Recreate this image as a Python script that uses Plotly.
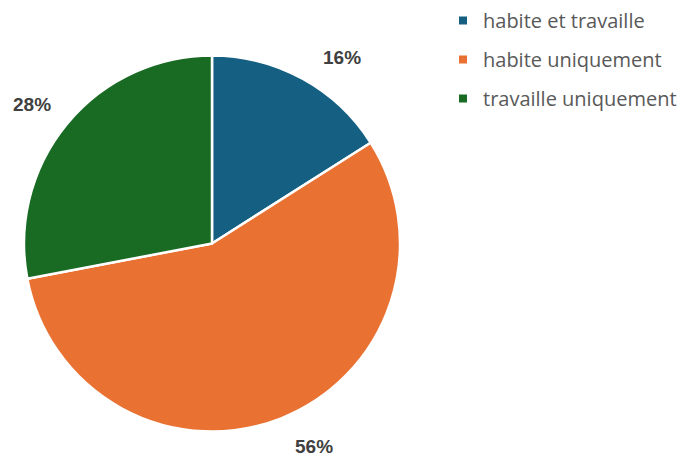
import math
import plotly.graph_objects as go

categories = ["habite et travaille", "habite uniquement", "travaille uniquement"]
values = [16, 56, 28]
colors = ["#156082", "#E97132", "#196B24"]

W, H = 684, 459
cx, cy, R = 212, 243.5, 188

fig = go.Figure()
fig.add_trace(go.Pie(
    labels=categories, values=values, sort=False, direction="clockwise",
    rotation=0, marker=dict(colors=colors, line=dict(color="white", width=2.5)),
    textinfo="none", showlegend=False, hoverinfo="label+percent",
    domain=dict(x=[(cx - R) / W, (cx + R) / W], y=[1 - (cy + R) / H, 1 - (cy - R) / H]),
))

# legend entries
for i, (c, col) in enumerate(zip(categories, colors)):
    fig.add_trace(go.Scatter(
        x=[None], y=[None], mode="markers", name=c, legendgroup=str(i),
        marker=dict(symbol="square", size=8, color=col),
    ))

# percentage labels outside the pie, placed along each slice's mid-angle
label_shift_deg = [6, -5, -2]
total = sum(values)
cum = 0
annotations = []
for v, sh in zip(values, label_shift_deg):
    mid = (cum + v / 2) / total * 2 * math.pi + math.radians(sh)
    cum += v
    r = R + 39
    px = cx + r * math.sin(mid)
    py = cy - r * math.cos(mid)
    annotations.append(dict(
        x=px / W, y=1 - py / H, xref="paper", yref="paper", showarrow=False,
        text=f"<b>{round(v / total * 100)}%</b>",
        font=dict(family="Liberation Sans, Arial", size=19, color="#404040"),
        xanchor="center", yanchor="middle",
    ))

fig.update_layout(
    width=W, height=H, margin=dict(l=0, r=0, t=0, b=0),
    paper_bgcolor="white", plot_bgcolor="white",
    xaxis=dict(visible=False), yaxis=dict(visible=False),
    annotations=annotations,
    legend=dict(x=443 / W, y=1 - 1 / H, xanchor="left", yanchor="top",
                font=dict(family="Open Sans", size=20, color="#595959"),
                tracegroupgap=10, itemwidth=30),
)

fig.write_html("out.html")
